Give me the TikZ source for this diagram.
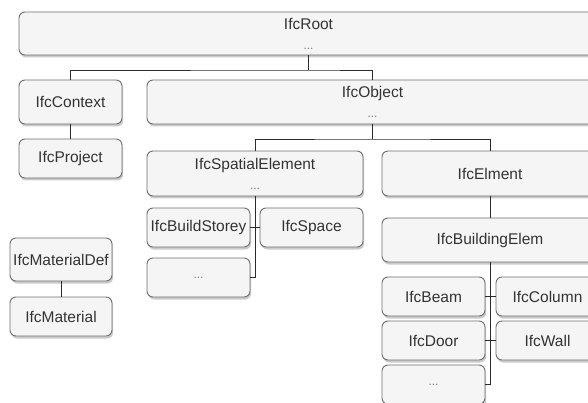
\documentclass[tikz,border=0pt]{standalone}
\usepackage{fontspec}
\setmainfont{Liberation Sans}
\usepackage{xcolor}
\usepackage{tikz}
\usetikzlibrary{positioning,shadows}
\definecolor{ifcLine}{HTML}{6E6E6E}
\definecolor{ifcFill}{HTML}{F5F5F5}
\definecolor{ifcText}{HTML}{333333}
\definecolor{ifcDots}{HTML}{7A7A7A}
\definecolor{ifcLink}{HTML}{2B2B2B}
\tikzset{
  ifc-box/.style={
    draw=ifcLine, line width=0.9pt, rounded corners=6pt,
    fill=ifcFill, text=ifcText, align=center,
    font=\fontsize{15.5}{18}\selectfont,
    inner sep=2pt, outer sep=0pt,
    drop shadow={shadow xshift=1.2pt, shadow yshift=-2.5pt,
      fill=black!45, opacity=0.45}
  },
  ifc-big/.style={ifc-box, minimum height=44pt},
  ifc-small/.style={ifc-box, minimum width=103pt, minimum height=39pt},
  ifc-link/.style={line width=0.9pt, draw=ifcLink}
}
\newcommand{\ifcdots}{{\color{ifcDots}\fontsize{12}{12}\selectfont ...}}

\begin{document}
\begin{tikzpicture}[x=1pt, y=-1pt]
\useasboundingbox (0,0) rectangle (588,403);
\clip (0,0) rectangle (588,403);
% --- root and first level ---
\node[ifc-big, minimum width=579pt, minimum height=43pt, anchor=north west]
  (root) at (19,12) {IfcRoot\\[2pt] \ifcdots};
\node[ifc-big, minimum width=103pt, below right=25pt and 0pt of root.south west]
  (context) {IfcContext};
\node[ifc-small, below=15pt of context] (project) {IfcProject};
\node[ifc-big, minimum width=451pt, right=25pt of context]
  (object) {IfcObject\\[2pt] \ifcdots};

% --- spatial branch ---
\node[ifc-big, minimum width=216pt, minimum height=45pt,
  below right=27pt and 0pt of object.south west]
  (spatial) {IfcSpatialElement\\[2pt] \ifcdots};
\node[ifc-small, below right=12pt and 0pt of spatial.south west]
  (storey) {IfcBuildStorey};
\node[ifc-small, right=10pt of storey] (space) {IfcSpace};
\node[ifc-small, below=11pt of storey] (sdots) {\ifcdots};

% --- element branch ---
\node[ifc-big, minimum width=216pt, minimum height=45pt, right=19pt of spatial]
  (elment) {IfcElment};
\node[ifc-big, minimum width=216pt, below=22pt of elment]
  (bldg) {IfcBuildingElem};
\node[ifc-small, below right=15pt and 0pt of bldg.south west] (beam) {IfcBeam};
\node[ifc-small, right=11pt of beam] (column) {IfcColumn};
\node[ifc-small, below=5pt of beam] (door) {IfcDoor};
\node[ifc-small, right=11pt of door] (wall) {IfcWall};
\node[ifc-small, below=5pt of door] (edots) {\ifcdots};

% --- material ---
\node[ifc-big, minimum width=102pt, minimum height=43pt, anchor=north west]
  (matdef) at (10,238) {IfcMaterialDef};
\node[ifc-small, minimum width=102pt, below=16pt of matdef]
  (material) {IfcMaterial};

% --- links ---
\draw[ifc-link] (root.south) -- ++(0,15) coordinate (rootj);
\draw[ifc-link] (context.north) |- (rootj) -| (object.north);
\draw[ifc-link] (context) -- (project);
\draw[ifc-link] (object.south) -- ++(0,15) coordinate (objj);
\draw[ifc-link] (spatial.north) |- (objj) -| (elment.north);
\draw[ifc-link] (spatial.south) |- (sdots.east);
\draw[ifc-link] (storey) -- (space);
\draw[ifc-link] (elment) -- (bldg);
\draw[ifc-link] (bldg.south) |- (edots.east);
\draw[ifc-link] (beam) -- (column);
\draw[ifc-link] (door) -- (wall);
\draw[ifc-link] (matdef) -- (material);
\end{tikzpicture}
\end{document}
